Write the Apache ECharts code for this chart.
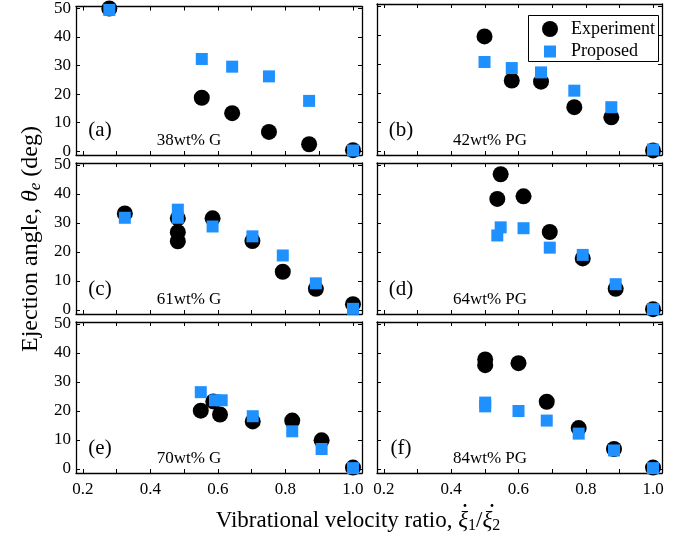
<!DOCTYPE html>
<html>
<head>
<meta charset="utf-8">
<script src="https://cdn.jsdelivr.net/npm/echarts@6/dist/echarts.min.js"></script>
<style>
  html, body { margin: 0; padding: 0; background: #fff; }
  #chart { width: 688px; height: 539px; }
</style>
</head>
<body>
<div id="chart"></div>
<script>
// 面板标签与流体
const panelTags = ["(a)", "(b)", "(c)", "(d)", "(e)", "(f)"];
const fluids = ["38wt% G", "42wt% PG", "61wt% G", "64wt% PG", "70wt% G", "84wt% PG"];

// 实验值 [速度比, 角度]
const expA = [[0.278, 50], [0.552, 18.7], [0.642, 13.3], [0.751, 6.7], [0.870, 2.4], [1.0, 0.3]];
const propA = [[0.278, 49.5], [0.552, 32.3], [0.642, 29.6], [0.751, 26.2], [0.870, 17.6], [1.0, 0.2]];
const expB = [[0.499, 39.5], [0.580, 24.3], [0.667, 23.9], [0.766, 15.1], [0.876, 11.6], [1.0, 0.2]];
const propB = [[0.499, 30.7], [0.580, 28.6], [0.667, 27.1], [0.766, 20.8], [0.876, 15.1], [1.0, 0.5]];
const expC = [[0.324, 33.3], [0.481, 31.6], [0.481, 26.8], [0.481, 23.7], [0.584, 31.6], [0.702, 23.8], [0.792, 13.2], [0.890, 7.3], [1.0, 2.0]];
const propC = [[0.324, 31.8], [0.481, 34.6], [0.481, 31.8], [0.584, 28.8], [0.702, 25.4], [0.792, 18.8], [0.890, 9.2], [1.0, 0.4]];
const expD = [[0.547, 46.8], [0.537, 38.3], [0.615, 39.2], [0.693, 26.9], [0.791, 17.8], [0.889, 7.3], [1.0, 0.3]];
const propD = [[0.547, 28.5], [0.537, 25.7], [0.615, 28.2], [0.693, 21.5], [0.791, 19.0], [0.889, 8.9], [1.0, 0.3]];
const expE = [[0.549, 20.1], [0.586, 23.3], [0.606, 18.8], [0.703, 16.4], [0.820, 16.7], [0.907, 9.9], [1.0, 0.5]];
const propE = [[0.549, 26.5], [0.591, 23.7], [0.611, 23.7], [0.703, 18.2], [0.820, 13.0], [0.907, 6.9], [1.0, 0.3]];
const expF = [[0.501, 37.8], [0.501, 35.8], [0.600, 36.5], [0.684, 23.2], [0.779, 14.1], [0.884, 6.9], [1.0, 0.5]];
const propF = [[0.501, 22.9], [0.501, 21.6], [0.600, 20.0], [0.684, 16.7], [0.779, 12.2], [0.884, 6.4], [1.0, 0.3]];

const expData = [expA, expB, expC, expD, expE, expF];
const propData = [propA, propB, propC, propD, propE, propF];

// 刻度
const xTicks = [0.2, 0.3, 0.4, 0.5, 0.6, 0.7, 0.8, 0.9, 1.0];
const xLabels = [0.2, 0.4, 0.6, 0.8, 1.0];
const yTicks = [0, 10, 20, 30, 40, 50];

const serif = "'Liberation Serif', 'DejaVu Serif', serif";
const colLeft = [76, 377];
const colWidth = [286, 285];
const rowTop = [4, 163, 322];
const panelH = 151;

function renderChart() {
  // 1. 实例化echart对象
  const myChart = echarts.init(document.querySelector("#chart"));
  const grid = [];
  const xAxis = [];
  const yAxis = [];
  const series = [];
  const graphic = [];

  for (let i = 0; i < 6; i++) {
    const col = i % 2;
    const row = Math.floor(i / 2);
    grid.push({ left: colLeft[col], top: rowTop[row], width: colWidth[col], height: panelH });
    const xBase = {
      gridIndex: i,
      type: "value",
      min: 0.1793,
      max: 1.0267,
      splitLine: { show: false },
      axisLine: { onZero: false, lineStyle: { color: "#000", width: 1.3 } },
      axisTick: { inside: true, length: 4, customValues: xTicks, lineStyle: { color: "#000" } },
    };
    xAxis.push({
      ...xBase,
      position: "bottom",
      axisLabel: {
        show: row === 2,
        customValues: xLabels,
        formatter: (v) => v.toFixed(1),
        color: "#000",
        fontFamily: serif,
        fontSize: 17,
        margin: 8,
      },
    });
    xAxis.push({ ...xBase, position: "top", axisLabel: { show: false } });
    const yBase = {
      gridIndex: i,
      type: "value",
      min: -1.38,
      max: 50.69,
      splitLine: { show: false },
      axisLine: { onZero: false, lineStyle: { color: "#000", width: 1.3 } },
      axisTick: { inside: true, length: 4, customValues: yTicks, lineStyle: { color: "#000" } },
    };
    yAxis.push({
      ...yBase,
      position: "left",
      axisLabel: {
        show: col === 0,
        customValues: yTicks,
        color: "#000",
        fontFamily: serif,
        fontSize: 17,
        margin: 5,
      },
    });
    yAxis.push({ ...yBase, position: "right", axisLabel: { show: false } });

    series.push({
      name: "Experiment",
      type: "scatter",
      xAxisIndex: 2 * i,
      yAxisIndex: 2 * i,
      symbol: "circle",
      symbolSize: 16,
      itemStyle: { color: "#000", opacity: 1 },
      data: expData[i],
      z: 2,
    });
    series.push({
      name: "Proposed",
      type: "scatter",
      xAxisIndex: 2 * i,
      yAxisIndex: 2 * i,
      symbol: "rect",
      symbolSize: 12,
      itemStyle: { color: "#1e90ff", opacity: 1 },
      data: propData[i],
      z: 3,
    });

    // 面板文字
    const gx = colLeft[col];
    const gy = rowTop[row];
    graphic.push({
      type: "text",
      x: gx + 24,
      y: gy + 126,
      style: { text: panelTags[i], font: `21px ${serif}`, fill: "#000", align: "center", verticalAlign: "middle" },
    });
    graphic.push({
      type: "text",
      x: gx + 113,
      y: gy + 137,
      style: { text: fluids[i], font: `17px ${serif}`, fill: "#000", align: "center", verticalAlign: "middle" },
    });
  }

  // 图例边框
  graphic.push({
    type: "rect",
    shape: { x: 528.5, y: 15.5, width: 130, height: 46 },
    style: { fill: "#fff", stroke: "#000", lineWidth: 1 },
    z: 5,
  });
  // 坐标轴标题
  graphic.push({
    type: "text",
    x: 31,
    y: 239,
    rotation: Math.PI / 2,
    style: {
      text: "{n|Ejection angle, }{i|θ}{s|e}{n| (deg)}",
      align: "center",
      verticalAlign: "middle",
      fill: "#000",
      rich: {
        n: { fontFamily: serif, fontSize: 24, fill: "#000" },
        i: { fontFamily: serif, fontSize: 24, fontStyle: "italic", fill: "#000" },
        s: { fontFamily: serif, fontSize: 17, fontStyle: "italic", fill: "#000", padding: [10, 0, 0, 0] },
      },
    },
  });
  graphic.push({
    type: "text",
    x: 358,
    y: 521,
    style: {
      text: "{n|Vibrational velocity ratio, }{i|ξ}{s|1}{n|/}{i|ξ}{s|2}",
      align: "center",
      verticalAlign: "middle",
      fill: "#000",
      rich: {
        n: { fontFamily: serif, fontSize: 23, fill: "#000" },
        i: { fontFamily: serif, fontSize: 23, fontStyle: "italic", fill: "#000" },
        s: { fontFamily: serif, fontSize: 16, fill: "#000", padding: [10, 0, 0, 0] },
      },
    },
  });
  // ξ 上方的点
  [465, 492].forEach((cx) => {
    graphic.push({
      type: "circle",
      shape: { cx, cy: 505.5, r: 1.4 },
      style: { fill: "#000" },
    });
  });

  // 2. 调整配置
  const legendText = { color: "#000", fontFamily: serif, fontSize: 18 };
  const option = {
    animation: false,
    grid,
    xAxis,
    yAxis,
    series,
    graphic,
    legend: [
      {
        left: 542,
        top: 20,
        padding: 0,
        data: [{ name: "Experiment", icon: "circle" }],
        itemWidth: 16,
        itemHeight: 16,
        textStyle: { ...legendText, padding: [0, 0, 0, 8] },
        selectedMode: false,
        z: 10,
      },
      {
        left: 544,
        top: 42.5,
        padding: 0,
        data: [{ name: "Proposed", icon: "rect" }],
        itemWidth: 12,
        itemHeight: 12,
        textStyle: { ...legendText, padding: [0, 0, 0, 10] },
        selectedMode: false,
        z: 10,
      },
    ],
  };
  // 3. 调用setOption方法
  myChart.setOption(option);
}
renderChart();
</script>
</body>
</html>
